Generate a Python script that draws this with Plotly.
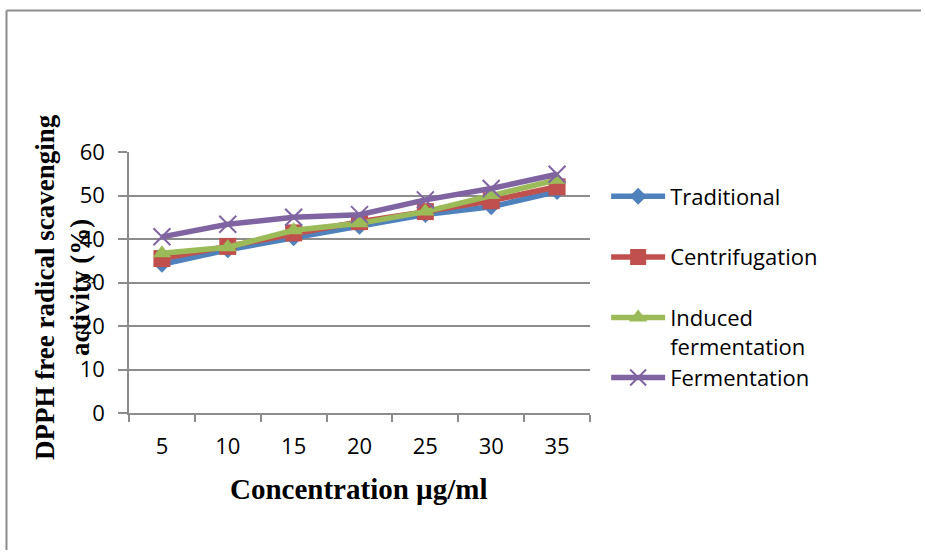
import plotly.graph_objects as go

# Concentrations (µg/ml) and DPPH scavenging activity (%) per extraction method
concentrations = ["5", "10", "15", "20", "25", "30", "35"]
traditional = [34.2, 37.5, 40.3, 42.9, 45.6, 47.4, 50.9]
centrifugation = [35.5, 38.3, 41.4, 44.0, 46.3, 48.8, 52.0]
induced_fermentation = [36.7, 38.1, 42.0, 43.6, 46.3, 50.1, 53.6]
fermentation = [40.5, 43.4, 45.0, 45.6, 49.0, 51.6, 54.9]

series = [
    ("Traditional", traditional, "#4F81BD", "diamond", 13, "legend"),
    ("Centrifugation", centrifugation, "#C0504D", "square", 17, "legend"),
    ("Induced<br>fermentation", induced_fermentation, "#9BBB59", "triangle-up", 16, "legend"),
    ("Fermentation", fermentation, "#8064A2", "x-thin", 17, "legend2"),
]

W, H = 925, 552
L, R, T, B = 129, 590, 152, 413
GRID = "#8c8c8c"
LABEL_FONT = "Open Sans"
LABEL_SIZE = 22

fig = go.Figure()
for i, (name, vals, color, symbol, size, leg) in enumerate(series):
    marker = dict(symbol=symbol, size=size, color=color)
    if symbol == "x-thin":
        marker["line"] = dict(color=color, width=2)
    fig.add_trace(go.Scatter(
        x=concentrations, y=vals, name=name, mode="lines+markers",
        line=dict(color=color, width=5.5), marker=marker,
        legendgroup=f"g{i}", legend=leg,
    ))

legend_common = dict(
    xanchor="left", yanchor="top",
    font=dict(family=LABEL_FONT, size=LABEL_SIZE, color="#000000"),
    valign="top", itemwidth=54, bgcolor="rgba(0,0,0,0)",
)

fig.update_layout(
    width=W, height=H,
    margin=dict(l=L, r=W - R, t=T, b=H - B, pad=0),
    paper_bgcolor="white", plot_bgcolor="white",
    font=dict(family=LABEL_FONT, size=LABEL_SIZE, color="#000000"),
    showlegend=True,
    legend=dict(x=1.035, y=0.91, tracegroupgap=29, **legend_common),
    legend2=dict(x=1.035, y=0.216, **legend_common),
    xaxis=dict(
        type="category", range=[-0.5, 6.5], tickson="boundaries",
        showgrid=False, showline=True, linecolor=GRID, linewidth=1.5,
        ticks="outside", ticklen=7, tickcolor=GRID, tickwidth=1.5,
        ticklabelstandoff=13, zeroline=False,
        tickfont=dict(family=LABEL_FONT, size=LABEL_SIZE),
    ),
    yaxis=dict(
        range=[0, 60], dtick=10, showgrid=True, gridcolor=GRID, gridwidth=1.5,
        showline=True, linecolor=GRID, linewidth=1.5,
        ticks="outside", ticklen=9, tickcolor=GRID, tickwidth=1.5,
        zeroline=False, ticklabelstandoff=9,
        tickfont=dict(family=LABEL_FONT, size=LABEL_SIZE),
    ),
)

pw, ph = R - L, B - T


def px(x):
    return (x - L) / pw


def py(y):
    return (B - y) / ph


# Axis titles
fig.add_annotation(
    x=px(359), y=py(489), xref="paper", yref="paper", showarrow=False,
    text="<b>Concentration µg/ml</b>", xanchor="center", yanchor="middle",
    font=dict(family="Liberation Serif", size=29, color="#000000"),
)
fig.add_annotation(
    x=px(62), y=py(287), xref="paper", yref="paper", showarrow=False,
    text="<b>DPPH free radical scavenging<br>activity (%)</b>", textangle=-90,
    xanchor="center", yanchor="middle", align="center",
    font=dict(family="Liberation Serif", size=27, color="#000000"),
)

# Chart frame: top and left edges
frame = dict(color="#8c8c8c", width=2)
fig.add_shape(type="line", xref="paper", yref="paper",
              x0=px(6.5), x1=px(921), y0=py(10.5), y1=py(10.5), line=frame)
fig.add_shape(type="line", xref="paper", yref="paper",
              x0=px(6.5), x1=px(6.5), y0=py(10.5), y1=py(H - 2), line=frame)

fig.write_html("out.html")
